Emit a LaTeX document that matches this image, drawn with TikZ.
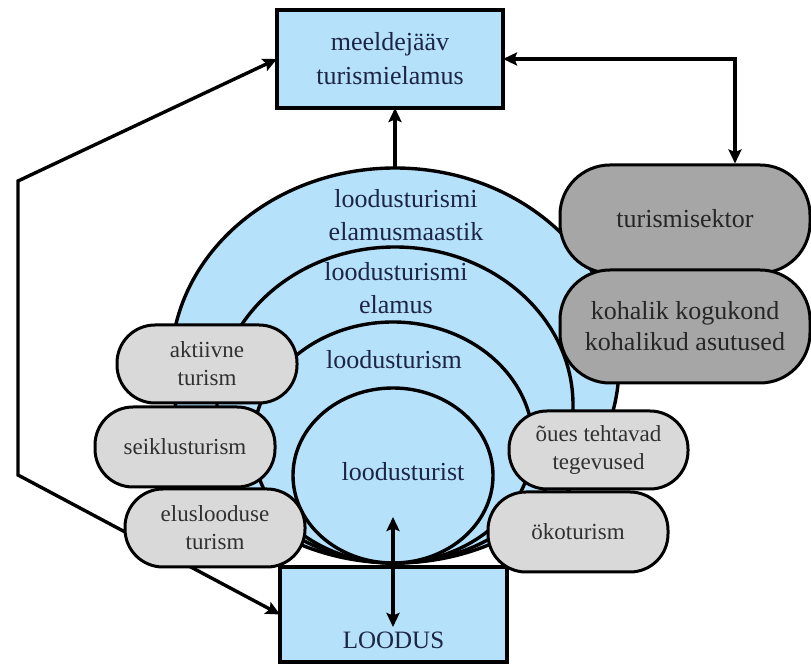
\documentclass[tikz,border=0pt]{standalone}
\usepackage{fontspec}
\setmainfont{Liberation Serif}
\usetikzlibrary{shapes.geometric,arrows.meta}
\definecolor{skyfill}{RGB}{182,225,250}
\definecolor{pillfill}{RGB}{217,217,217}
\definecolor{darkfill}{RGB}{166,166,166}
\definecolor{navytext}{RGB}{28,38,68}
\definecolor{greytext}{RGB}{48,48,48}
\pgfdeclarelayer{under}
\pgfsetlayers{under,main}
\begin{document}
\begin{tikzpicture}[x=1pt,y=1pt,
  bluebox/.style={draw, line width=3.4pt, fill=skyfill, rectangle, inner sep=0pt, outer sep=0pt,
    text=navytext, align=center, font=\fontsize{26}{34}\selectfont},
  ring/.style={draw, line width=3.4pt, fill=skyfill, ellipse, inner sep=0pt, outer sep=0pt},
  ringtext/.style={text=navytext, align=center, font=\fontsize{26}{33}\selectfont},
  pill/.style={draw, line width=3pt, fill=pillfill, rectangle, rounded corners=38pt,
    minimum width=180pt, minimum height=78pt, inner sep=0pt, text=greytext, align=center,
    font=\fontsize{23}{28}\selectfont},
  darkpill/.style={draw, line width=3pt, fill=darkfill, rectangle, rounded corners=50pt,
    minimum width=250pt, inner sep=0pt, text=black!85, align=center,
    font=\fontsize{26}{31}\selectfont},
  tip/.style={Stealth[length=14pt,width=13pt,inset=2.5pt]},
  conn/.style={line width=3.4pt, arrows={-Stealth[length=14pt,width=13pt,inset=2.5pt]}},
  biconn/.style={line width=3.4pt, arrows={Stealth[length=14pt,width=13pt,inset=2.5pt]-Stealth[length=14pt,width=13pt,inset=2.5pt]}}
]
\useasboundingbox (0,0) rectangle (811,666);

% outcome box and nature box
\node[bluebox, minimum width=226pt, minimum height=98pt] (top) at (390,607) {meeldejääv\\turismielamus};
\node[bluebox, minimum width=227pt, minimum height=95pt] (loodus) at (393.5,51.5) {};
\node[text=navytext, font=\fontsize{25}{30}\selectfont] (loodustext) at (393.5,26) {LOODUS};

% nested experience rings, all touching at the bottom
\node[ring, minimum width=448pt, minimum height=395pt] (e1) at (395,300.5) {};
\node[ring, minimum width=356pt, minimum height=316pt] (e2) at (395,261) {};
\node[ring, minimum width=280pt, minimum height=241pt] (e3) at (393,223.5) {};
\node[ring, minimum width=200pt, minimum height=175pt] (e4) at (393,190.5) {};

\node[ringtext] (t1) at (406,451) {loodusturismi\\elamusmaastik};
\node[ringtext] (t2) at (396,378) {loodusturismi\\elamus};
\node[ringtext] (t3) at (394,306) {loodusturism};
\node[ringtext] (t4) at (403,194) {loodusturist};

% forms of nature tourism
\node[pill] (aktiivne) at (207,302) {aktiivne\\turism};
\node[pill, minimum height=80pt] (seiklus) at (185,219) {seiklusturism};
\node[pill] (elus) at (215,138) {elusloodus{}e\\turism};
\node[pill, minimum width=179pt] (oues) at (598.5,216) {õues tehtavad\\tegevused};
\node[pill, minimum height=80pt] (oko) at (578,134) {ökoturism};

% stakeholders
\node[darkpill, minimum height=108pt] (sektor) at (685,447) {turismisektor};
\node[darkpill, minimum height=113pt] (kogukond) at (685,339.5) {kohalik kogukond\\kohalikud asutused};

% connectors
\begin{pgfonlayer}{under}
  \coordinate (bendtop) at (18,485);
  \coordinate (bendlow) at (18,191);
  \draw[biconn, line join=miter] (top.west) -- (bendtop) -- (bendlow) -- (loodus.west);
\end{pgfonlayer}
\draw[conn] (e1.north) -- (e1.north |- top.south);
\draw[biconn, line join=miter] (top.east) -| ([xshift=50pt]sektor.north);
\coordinate (innertop) at (393,149);
\coordinate (innerlow) at (393,39);
\draw[biconn] (innertop) -- (innerlow);
\end{tikzpicture}
\end{document}
